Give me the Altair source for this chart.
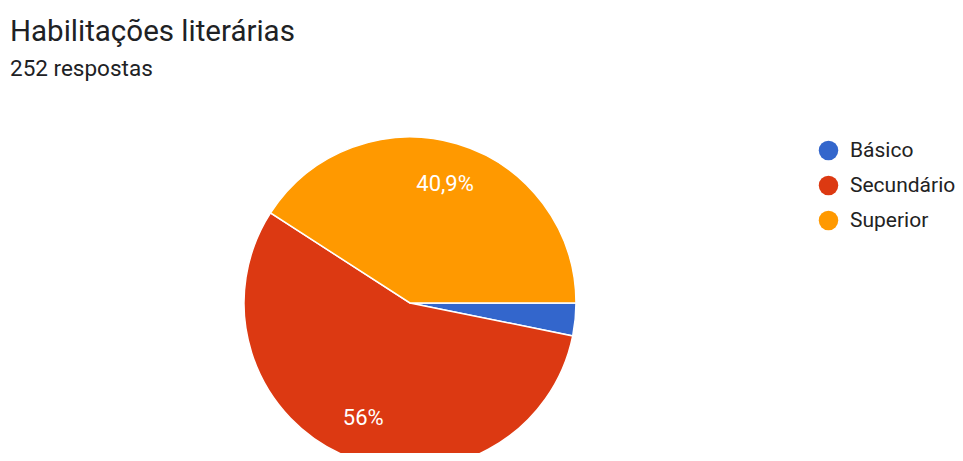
import math
import altair as alt
import pandas as pd

categories = ["Básico", "Secundário", "Superior"]
counts = [8, 141, 103]
labels = ["", "56%", "40,9%"]
colors = ["#3366CC", "#DC3912", "#FF9900"]
title_text = "Habilitações literárias"
subtitle_text = "252 respostas"

df = pd.DataFrame({"cat": categories, "n": counts, "label": labels,
                   "order": list(range(len(categories)))})

CX, CY, R = 402, 295, 166
FONT = "Roboto"

theta = alt.Theta("n:Q", stack=True,
                  scale=alt.Scale(range=[math.pi / 2, math.pi / 2 + 2 * math.pi]))
color = alt.Color("cat:N", sort=categories,
                  scale=alt.Scale(domain=categories, range=colors),
                  legend=alt.Legend(title=None, orient="none", legendX=810, legendY=132,
                                    labelFontSize=21, labelFont=FONT, labelColor="#222222",
                                    symbolType="circle", symbolSize=380, symbolStrokeWidth=0,
                                    rowPadding=13, labelOffset=11))

base = alt.Chart(df).encode(theta=theta, order=alt.Order("order:Q"))

pie = base.mark_arc(outerRadius=R, stroke="white", strokeWidth=1.5).encode(
    color=color, x=alt.value(CX), y=alt.value(CY))

text = base.mark_text(radius=124, fontSize=22, font=FONT, color="white").encode(
    text="label:N", x=alt.value(CX), y=alt.value(CY))

title = alt.Chart(pd.DataFrame({"t": [title_text]})).mark_text(
    align="left", baseline="alphabetic", fontSize=29.5, font=FONT, color="#202124",
    x=2, y=33).encode(text="t:N")
subtitle = alt.Chart(pd.DataFrame({"t": [subtitle_text]})).mark_text(
    align="left", baseline="alphabetic", fontSize=22.5, font=FONT, color="#202124",
    x=2, y=68).encode(text="t:N")

chart = alt.layer(pie, text, title, subtitle).properties(
    width=947, height=445, autosize=alt.AutoSizeParams(type="none"), padding=0
).configure_view(stroke=None)

chart.save("out.html", embed_options={"renderer": "svg", "actions": False})
